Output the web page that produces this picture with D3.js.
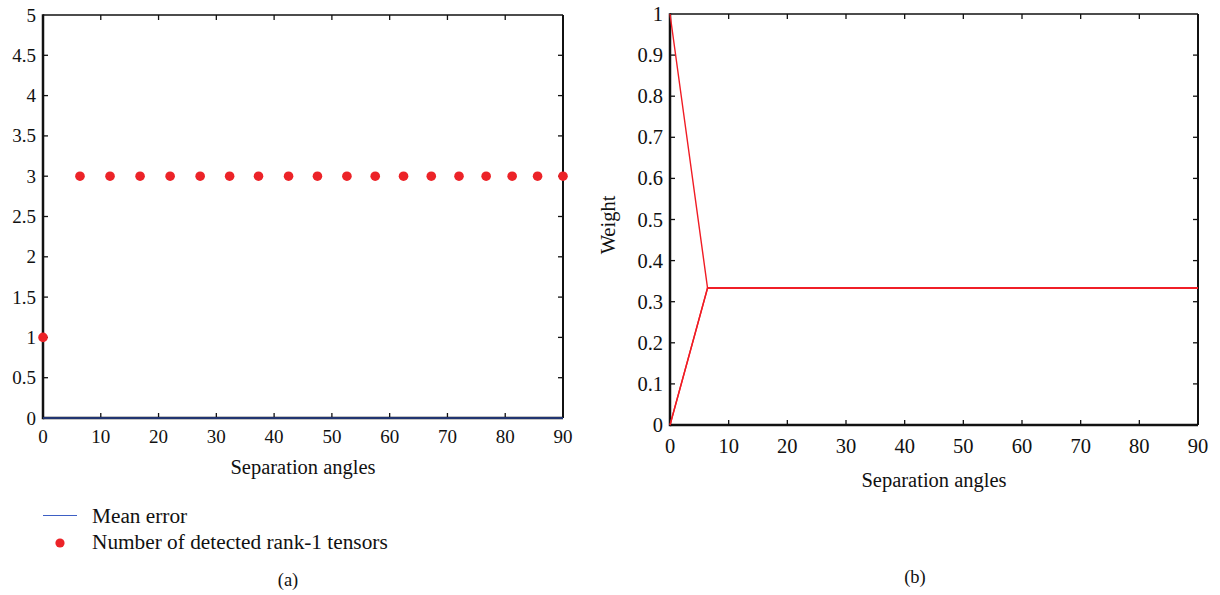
<!DOCTYPE html>
<html><head><meta charset="utf-8">
<script src="https://cdn.jsdelivr.net/npm/d3@7"></script>
<style>body{margin:0;background:#fff}svg{display:block}</style>
</head><body>
<svg id="c" width="1220" height="595" font-family="'Liberation Serif', 'Times New Roman', 'DejaVu Serif', serif"></svg>
<script>
const angles = [0, 6.4, 11.6, 16.8, 22.0, 27.2, 32.3, 37.3, 42.5, 47.5, 52.6, 57.5, 62.4, 67.2, 72.0, 76.7, 81.2, 85.6, 90];
const meanError = angles.map(() => 0);
const detected = [1, 3, 3, 3, 3, 3, 3, 3, 3, 3, 3, 3, 3, 3, 3, 3, 3, 3, 3];
const weight1 = [1, 0.3333, 0.3333, 0.3333, 0.3333, 0.3333, 0.3333, 0.3333, 0.3333, 0.3333, 0.3333, 0.3333, 0.3333, 0.3333, 0.3333, 0.3333, 0.3333, 0.3333, 0.3333];
const weight2 = [0, 0.3333, 0.3333, 0.3333, 0.3333, 0.3333, 0.3333, 0.3333, 0.3333, 0.3333, 0.3333, 0.3333, 0.3333, 0.3333, 0.3333, 0.3333, 0.3333, 0.3333, 0.3333];
const weight3 = [0, 0.3333, 0.3333, 0.3333, 0.3333, 0.3333, 0.3333, 0.3333, 0.3333, 0.3333, 0.3333, 0.3333, 0.3333, 0.3333, 0.3333, 0.3333, 0.3333, 0.3333, 0.3333];
const xTicks = [0, 10, 20, 30, 40, 50, 60, 70, 80, 90];
const yTicksA = [0, 0.5, 1, 1.5, 2, 2.5, 3, 3.5, 4, 4.5, 5];
const yTicksB = [0, 0.1, 0.2, 0.3, 0.4, 0.5, 0.6, 0.7, 0.8, 0.9, 1];
const legendLabels = ["Mean error", "Number of detected rank-1 tensors"];

const svg = d3.select("#c");
const RED = "#ec2328", REDLINE = "#f01c24", BLUE = "#2a4aa8", BLUE_LEG = "#3d5fc4";
const FF = "'Liberation Serif', 'Times New Roman', 'DejaVu Serif', serif";

function txt(g, x, y, s, fs, anchor) {
  return g.append("text").attr("x", x).attr("y", y).attr("text-anchor", anchor || "middle")
    .attr("dominant-baseline", "central").attr("font-size", fs).attr("font-family", FF).attr("fill", "#111").text(s);
}

function frame(g, x, y, ticksX, ticksY, fs, xOff) {
  const [x0, x1] = x.range(), [y0, y1] = y.range();
  const tl = 5;
  ticksX.forEach(d => txt(g, x(d), y0 + xOff, d, fs));
  ticksY.forEach(d => txt(g, x0 - 7, y(d), d, fs, "end"));
  const tx = ticksX.slice(1, -1), ty = ticksY.slice(1, -1);
  const tick = (x1_, y1_, x2_, y2_) => g.append("line").attr("x1", x1_).attr("y1", y1_).attr("x2", x2_).attr("y2", y2_).attr("stroke", "#111").attr("stroke-width", 1.3);
  tx.forEach(d => { tick(x(d), y0, x(d), y0 - tl); tick(x(d), y1, x(d), y1 + tl); });
  ty.forEach(d => { tick(x0, y(d), x0 + tl, y(d)); tick(x1, y(d), x1 - tl, y(d)); });
  g.append("line").attr("x1", x0).attr("x2", x1).attr("y1", y1).attr("y2", y1).attr("stroke", "#111").attr("stroke-width", 1.6);
  g.append("line").attr("x1", x1).attr("x2", x1).attr("y1", y1).attr("y2", y0).attr("stroke", "#111").attr("stroke-width", 2);
  g.append("line").attr("x1", x0).attr("x2", x1).attr("y1", y0).attr("y2", y0).attr("stroke", "#111").attr("stroke-width", 2.5);
  g.append("line").attr("x1", x0).attr("x2", x0).attr("y1", y1 - 0.8).attr("y2", y0 + 1.2).attr("stroke", "#111").attr("stroke-width", 2.5);
}

// ---- Panel (a)
const xa = d3.scaleLinear().domain([0, 90]).range([43, 563]);
const ya = d3.scaleLinear().domain([0, 5]).range([418, 15]);
const ga = svg.append("g");
frame(ga, xa, ya, xTicks, yTicksA, 19, 18);
ga.append("path").datum(angles.map((a, i) => [a, meanError[i]]))
  .attr("d", d3.line().x(d => xa(d[0])).y(d => ya(d[1])))
  .attr("fill", "none").attr("stroke", BLUE).attr("stroke-width", 1.6).attr("opacity", 0.85);
ga.selectAll(".pt").data(angles.map((a, i) => [a, detected[i]])).join("circle")
  .attr("cx", d => xa(d[0])).attr("cy", d => ya(d[1])).attr("r", 4.8).attr("fill", RED);
txt(ga, xa(45), 467, "Separation angles", 20.5);

// legend
const lg = svg.append("g");
lg.append("line").attr("x1", 43).attr("x2", 77).attr("y1", 515.5).attr("y2", 515.5).attr("stroke", BLUE_LEG).attr("stroke-width", 1.2);
lg.append("circle").attr("cx", 60).attr("cy", 543).attr("r", 4.6).attr("fill", RED);
legendLabels.forEach((d, i) => txt(lg, 92, 516 + i * 26, d, 21.3, "start"));
txt(svg, 288, 580, "(a)", 18.5);

// ---- Panel (b)
const xb = d3.scaleLinear().domain([0, 90]).range([670, 1198]);
const yb = d3.scaleLinear().domain([0, 1]).range([425, 14]);
const gb = svg.append("g");
frame(gb, xb, yb, xTicks, yTicksB, 20.5, 21);
const lineB = d3.line().x(d => xb(d[0])).y(d => yb(d[1]));
[weight1, weight2, weight3].forEach(w => {
  gb.append("path").datum(angles.map((a, i) => [a, w[i]])).attr("d", lineB)
    .attr("fill", "none").attr("stroke", REDLINE).attr("stroke-width", 1.4);
});
txt(gb, xb(45), 480, "Separation angles", 20.5);
txt(gb, 0, 0, "Weight", 20.5).attr("x", null).attr("y", null).attr("transform", "translate(608,225) rotate(-90)");
txt(svg, 915, 577, "(b)", 18.5);
</script>
</body></html>
